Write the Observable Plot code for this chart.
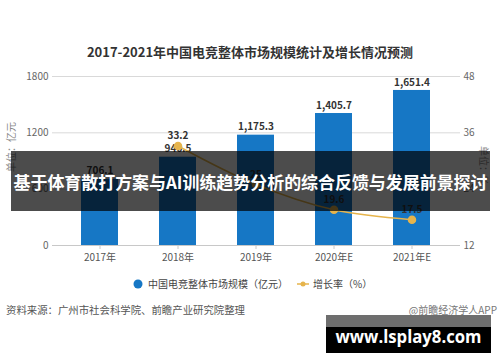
<!DOCTYPE html>
<html><head><meta charset="utf-8">
<script src="https://cdn.jsdelivr.net/npm/d3@7"></script>
<script src="https://cdn.jsdelivr.net/npm/@observablehq/plot@0.6"></script>
<style>
html,body{margin:0;padding:0;background:#fff;}
#wrap{position:relative;width:500px;height:362px;overflow:hidden;font-family:"Noto Sans CJK SC","Noto Sans",sans-serif;}
#chart{position:absolute;left:0;top:0;}
.abs{position:absolute;white-space:nowrap;}
</style></head>
<body>
<div id="wrap">
  <div id="chart"></div>
  <div class="abs" id="title" style="left:0;width:500px;top:43px;text-align:center;font-size:13px;font-weight:bold;color:#333;line-height:18px;"></div>
  <div class="abs" id="ylab" style="left:3px;top:152px;width:20px;font-size:10px;color:#888;transform:rotate(-90deg);transform-origin:10px 10px;"></div>
  <div class="abs" id="y2lab" style="left:478px;top:146px;width:40px;font-size:10px;color:#888;transform:rotate(90deg);transform-origin:7px 7px;"></div>
  <div id="legend"></div>
  <div class="abs" id="source" style="left:6px;top:302px;font-size:10.4px;color:#555;line-height:16px;"></div>
  <div class="abs" id="credit" style="right:3px;top:302px;font-size:10px;color:#777;line-height:16px;"></div>
  <div class="abs" style="left:11px;top:151px;width:479px;height:60px;background:rgba(0,0,0,0.7);"></div>
  <svg class="abs" style="left:11px;top:151px;" width="479" height="60">
    <text id="banner" x="239.5" y="38" text-anchor="middle" fill="#fff" font-weight="bold" font-size="17" font-family="'Noto Sans CJK SC',sans-serif" textLength="474" lengthAdjust="spacingAndGlyphs"></text>
  </svg>
  <div class="abs" style="left:326px;top:315px;width:165px;height:12px;background:#6e6e6e;"></div>
  <div class="abs" style="left:326px;top:327px;width:165px;height:26px;background:#000;"></div>
  <svg class="abs" style="left:316px;top:315px;" width="185" height="40">
    <text id="site" x="92.5" y="28" text-anchor="middle" fill="#fff" font-weight="bold" font-size="17" font-family="'Open Sans','DejaVu Sans',sans-serif" textLength="146" lengthAdjust="spacingAndGlyphs"></text>
  </svg>
</div>
<script>
const titleText = "2017-2021年中国电竞整体市场规模统计及增长情况预测";
const years = ["2017年","2018年","2019年","2020年E","2021年E"];
const market = [706.1, 940.5, 1175.3, 1405.7, 1651.4];
const growth = [null, 33.2, 25, 19.6, 17.5];
const leftTicks = [0, 600, 1200, 1800];
const rightTicks = [12, 24, 36, 48];
const yLeftLabel = "单位：亿元";
const yRightLabel = "单位：%";
const seriesNames = ["中国电竞整体市场规模（亿元）", "增长率（%）"];
const sourceText = "资料来源：广州市社会科学院、前瞻产业研究院整理";
const creditText = "@前瞻经济学人APP";
const bannerText = "基于体育散打方案与AI训练趋势分析的综合反馈与发展前景探讨";
const siteText = "www.lsplay8.com";

const blue = "#1677c5", gold = "#e6b44c";
const L0 = 0, L1 = 1800, R0 = 12, R1 = 48;
const toLeft = v => L0 + (v - R0) / (R1 - R0) * (L1 - L0);
const toRight = v => R0 + (v - L0) / (L1 - L0) * (R1 - R0);

const bars = years.map((y, i) => ({year: y, value: market[i]}));
const line = years.map((y, i) => ({year: y, g: growth[i]})).filter(d => d.g != null)
  .map(d => ({...d, yv: toLeft(d.g)}));

const fmt = d3.format(",.1f");

const plot = Plot.plot({
  width: 500, height: 270,
  marginTop: 76, marginBottom: 25, marginLeft: 52, marginRight: 40,
  style: {fontFamily: "'Noto Sans CJK SC','Noto Sans',sans-serif", fontSize: "10px", color: "#666", background: "transparent"},
  x: {type: "band", domain: years, paddingInner: 0.52, paddingOuter: 0.36, label: null},
  y: {domain: [L0, L1], label: null},
  marks: [
    Plot.gridY(leftTicks, {stroke: "#d9d9d9", strokeOpacity: 1}),
    Plot.axisY(leftTicks, {anchor: "left", tickSize: 0, tickPadding: 4, label: null, tickFormat: d => String(d), fill: "#666"}),
    Plot.axisY(rightTicks.map(toLeft), {anchor: "right", tickSize: 0, tickPadding: 3, label: null, tickFormat: d => String(Math.round(toRight(d))), fill: "#666"}),
    Plot.barY(bars, {x: "year", y: "value", fill: blue}),
    Plot.ruleY([0], {stroke: "#c8c8c8"}),
    Plot.axisX({tickSize: 4, tickPadding: 4, stroke: "#c8c8c8", label: null, fill: "#555"}),
    Plot.text(bars, {x: "year", y: "value", text: d => fmt(d.value), dy: -8, fill: "#333", fontWeight: "bold", fontSize: 10}),
    Plot.line(line, {x: "year", y: "yv", stroke: gold, strokeWidth: 1.5, curve: "catmull-rom"}),
    Plot.dot(line, {x: "year", y: "yv", r: 3.5, fill: gold, stroke: gold}),
    Plot.text(line, {x: "year", y: "yv", text: d => String(d.g), dy: -10, fill: "#333", fontWeight: "bold", fontSize: 10})
  ]
});
document.getElementById("chart").appendChild(plot);

document.getElementById("title").textContent = titleText;
document.getElementById("ylab").textContent = yLeftLabel;
document.getElementById("y2lab").textContent = yRightLabel;
document.getElementById("source").textContent = sourceText;
document.getElementById("credit").textContent = creditText;
document.getElementById("banner").textContent = bannerText;
document.getElementById("site").textContent = siteText;

// legend
const lg = d3.select("#legend").append("svg").attr("class", "abs")
  .style("left", "0px").style("top", "274px").attr("width", 500).attr("height", 20);
lg.append("circle").attr("cx", 138).attr("cy", 10).attr("r", 4.5).attr("fill", blue);
lg.append("text").attr("x", 148).attr("y", 14).attr("font-size", 10).attr("fill", "#444")
  .attr("font-family", "'Noto Sans CJK SC',sans-serif").text(seriesNames[0]);
lg.append("line").attr("x1", 297).attr("x2", 309).attr("y1", 10).attr("y2", 10).attr("stroke", gold).attr("stroke-width", 1.5);
lg.append("circle").attr("cx", 303).attr("cy", 10).attr("r", 2.5).attr("fill", gold);
lg.append("text").attr("x", 313).attr("y", 14).attr("font-size", 10).attr("fill", "#444")
  .attr("font-family", "'Noto Sans CJK SC',sans-serif").text(seriesNames[1]);
</script>
</body></html>
